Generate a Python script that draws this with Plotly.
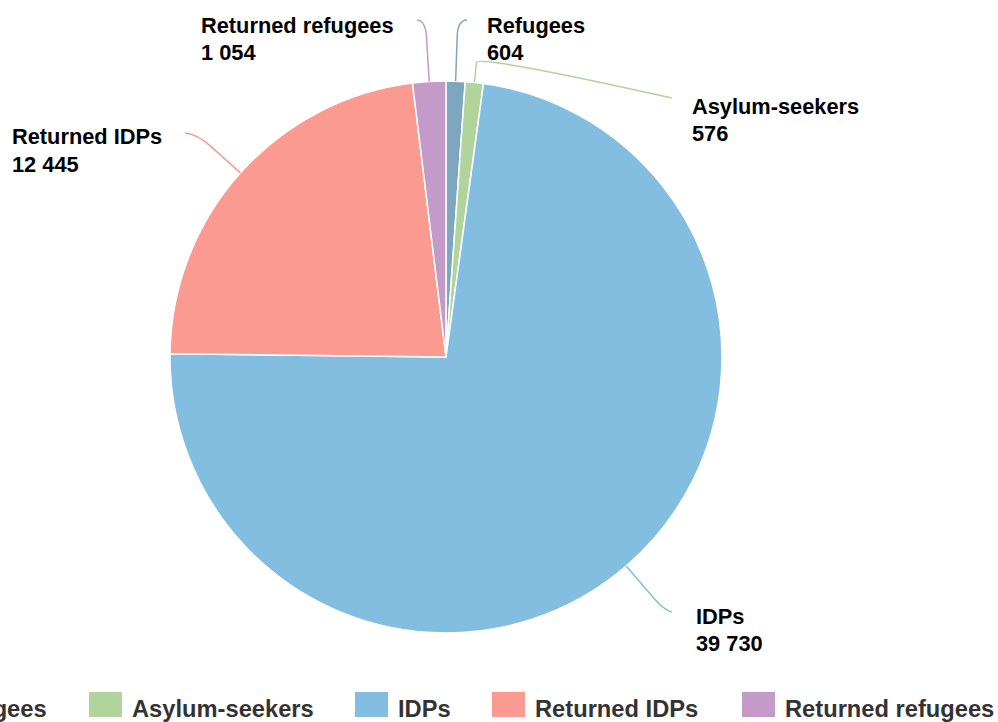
import numpy as np
import plotly.graph_objects as go

# ---------------- data ----------------
categories = ["Refugees", "Asylum-seekers", "IDPs", "Returned IDPs", "Returned refugees"]
values = [604, 576, 39730, 12445, 1054]
colors = ["#7fa6bf", "#b0d49b", "#83bde0", "#fb9a91", "#c49bc8"]

# ---------------- layout constants (pixels) ----------------
W, H = 998, 722
CX, CY, R = 446, 357, 276
LABEL_FONT = 21.8
LEGEND_FONT = 23.7
FONT = "Liberation Sans, Arial, Helvetica, sans-serif"

# per-label: text left x, first line centre y, connector end (x, y), break dist, control dist
label_layout = [
    dict(tx=485, ty=26, ex=467, ey=20, d1=45, d2=61),    # Refugees
    dict(tx=690, ty=106, ex=672, ey=98, d1=20, d2=28),   # Asylum-seekers
    dict(tx=694, ty=616, ex=672, ey=612, d1=42, d2=58),  # IDPs
    dict(tx=10, ty=137, ex=185, ey=133, d1=40, d2=58),   # Returned IDPs
    dict(tx=199, ty=26, ex=417, ey=20, d1=45, d2=61),    # Returned refugees
]
LINE_GAP = 27
legend_square_x = [-103, 89, 355, 492, 742]
LEG_SQ_W, LEG_SQ_H = 33, 25
LEG_SQ_Y = 692
LEG_TEXT_DX = 41
LEG_TEXT_Y = 709


def px(x):
    return x / W


def py(y):
    return 1 - y / H


fig = go.Figure()
fig.add_trace(go.Pie(
    labels=categories,
    values=values,
    sort=False,
    direction="clockwise",
    rotation=0,
    marker=dict(colors=colors, line=dict(color="#ffffff", width=1.5)),
    textinfo="none",
    hovertemplate="%{label}: %{value}<extra></extra>",
    showlegend=False,
    domain=dict(x=[px(CX - R), px(CX + R)], y=[py(CY + R), py(CY - R)]),
))

annotations = []
shapes = []

total = float(sum(values))
cum = 0.0
for cat, val, col, lay in zip(categories, values, colors, label_layout):
    mid = (cum + val / 2.0) / total * 2 * np.pi
    cum += val
    dx, dy = np.sin(mid), -np.cos(mid)
    tx, ty = CX + R * dx, CY + R * dy
    bx, by = CX + (R + lay["d1"]) * dx, CY + (R + lay["d1"]) * dy
    qx, qy = CX + (R + lay["d2"]) * dx, CY + (R + lay["d2"]) * dy
    path = (f"M {px(tx)} {py(ty)} L {px(bx)} {py(by)} "
            f"Q {px(qx)} {py(qy)} {px(lay['ex'])} {py(lay['ey'])}")
    shapes.append(dict(type="path", path=path, xref="paper", yref="paper",
                       line=dict(color=col, width=1.5)))
    val_txt = f"{val:,}".replace(",", " ")
    for i, txt in enumerate([cat, val_txt]):
        annotations.append(dict(
            text=f"<b>{txt}</b>", x=px(lay["tx"]), y=py(lay["ty"] + i * LINE_GAP),
            xref="paper", yref="paper", xanchor="left", yanchor="middle",
            showarrow=False, font=dict(family=FONT, size=LABEL_FONT, color="#000000"),
        ))

# custom legend (overflowing window, as in reference)
for cat, col, sx in zip(categories, colors, legend_square_x):
    shapes.append(dict(type="rect", xref="paper", yref="paper",
                       x0=px(sx), x1=px(sx + LEG_SQ_W),
                       y0=py(LEG_SQ_Y + LEG_SQ_H), y1=py(LEG_SQ_Y),
                       fillcolor=col, line=dict(width=0)))
    annotations.append(dict(
        text=f"<b>{cat}</b>", x=px(sx + LEG_TEXT_DX), y=py(LEG_TEXT_Y),
        xref="paper", yref="paper", xanchor="left", yanchor="middle",
        showarrow=False, font=dict(family=FONT, size=LEGEND_FONT, color="#333333"),
    ))

fig.update_layout(
    width=W, height=H,
    margin=dict(l=0, r=0, t=0, b=0),
    paper_bgcolor="#ffffff",
    plot_bgcolor="#ffffff",
    annotations=annotations,
    shapes=shapes,
    showlegend=False,
)

fig.write_html(
    "out.html",
    config={"displayModeBar": False},
    post_script="document.body.style.margin='0';document.body.style.overflow='hidden';",
)
